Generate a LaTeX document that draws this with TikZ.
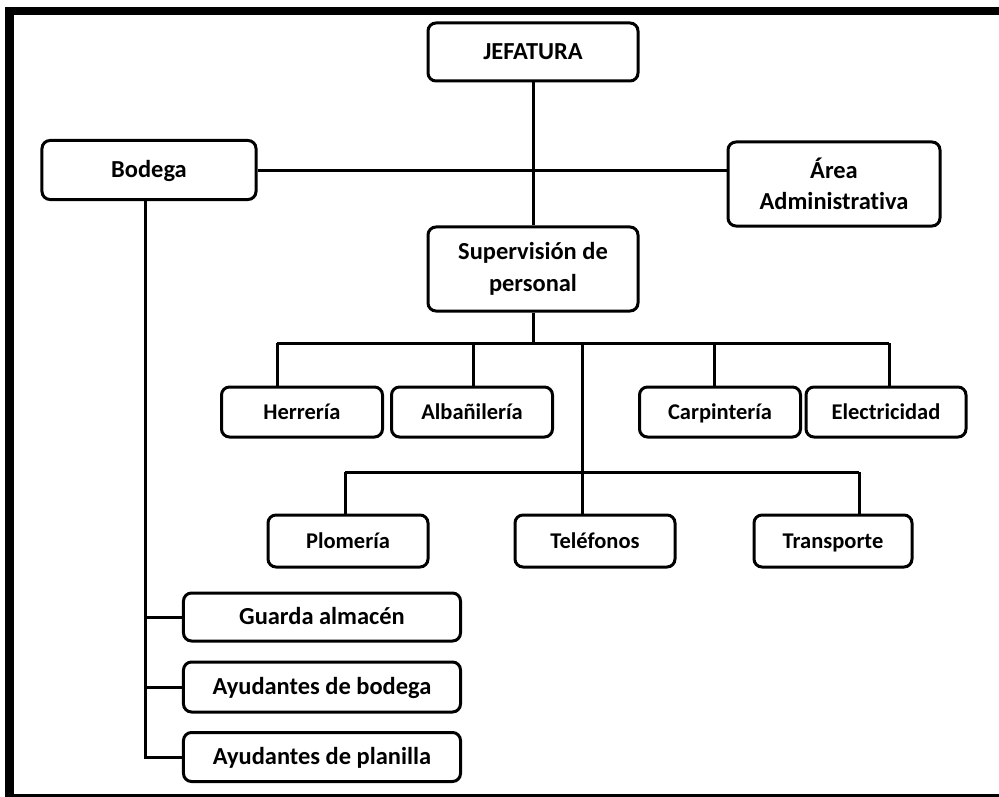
\documentclass[tikz,border=0pt]{standalone}
\usepackage{fontspec}
\setmainfont{Carlito}[Ligatures=NoCommon]

\begin{document}
\begin{tikzpicture}[x=.25mm,y=-.25mm,line width=.75mm,
    box/.style={draw,rounded corners=2mm,fill=white,align=center,inner sep=0pt,
      font=\bfseries\fontsize{17.4}{22.5}\selectfont},
    uno/.style={box,text height=1.38ex+1.4mm,text depth=0pt},
    oficio/.style={uno,font=\bfseries\fontsize{16}{19}\selectfont,
      minimum width=40.25mm,minimum height=12.5mm},
    bodbox/.style={uno,minimum width=69.25mm}]
  \useasboundingbox (0,0) rectangle (999,797);
  \clip (0,0) rectangle (999,797);
  % marco
  \draw[line width=2mm] (9.5,11) rectangle (1040,798);

  \node[uno,minimum width=52.5mm,minimum height=14.5mm] (jef) at (533,52) {JEFATURA};
  \node[uno,minimum width=53.5mm,minimum height=14.75mm] (bod) at (149,170) {Bodega};
  \node[box,minimum width=53mm,minimum height=21mm] (adm) at (834,184) {Área\\Administrativa};
  \node[box,minimum width=52.5mm,minimum height=21mm] (sup) at (533,269) {Supervisión de\\personal};
  \draw (jef) -- (sup);
  \draw (bod.east) -- (bod.east -| adm.west);

  % oficios
  \node[oficio] (her) at (302,412) {Herrería};
  \node[oficio] (alb) at (472,412) {Albañilería};
  \node[oficio] (car) at (720,412) {Carpintería};
  \node[oficio,minimum width=40mm] (ele) at (886,412) {Electricidad};
  \node[oficio,minimum width=40mm,minimum height=13mm] (plo) at (348,541) {Plomería};
  \node[oficio,minimum width=40mm,minimum height=13mm] (tel) at (595,541) {Teléfonos};
  \node[oficio,minimum width=39.5mm,minimum height=13mm] (tra) at (833,541) {Transporte};

  \coordinate (hub) at (533,343);
  \coordinate (mid) at (582,343);
  \draw (sup) -- (hub);
  \foreach \n/\x in {her/277,alb/473,car/714,ele/889}{
    \coordinate (t\n) at (\x,343);
    \draw (t\n) -- (t\n |- \n.north);}
  \draw (ther) -- (tele);
  \foreach \n/\x in {plo/345,tel/582,tra/859}{
    \coordinate (t\n) at (\x,472);
    \draw (t\n) -- (t\n |- \n.north);}
  \draw (mid) -- (ttel);
  \draw (tplo) -- (ttra);

  % bodega
  \node[bodbox,minimum height=12mm] (gua) at (322,617) {Guarda almacén};
  \node[bodbox,minimum height=12.5mm] (ayb) at (322,687) {Ayudantes de bodega};
  \node[bodbox,minimum height=12.25mm] (ayp) at (322,757) {Ayudantes de planilla};
  \coordinate (trunk) at (145,199);
  \draw (trunk) |- (ayp.west);
  \draw (trunk |- gua.west) -- (gua.west);
  \draw (trunk |- ayb.west) -- (ayb.west);
\end{tikzpicture}
\end{document}
